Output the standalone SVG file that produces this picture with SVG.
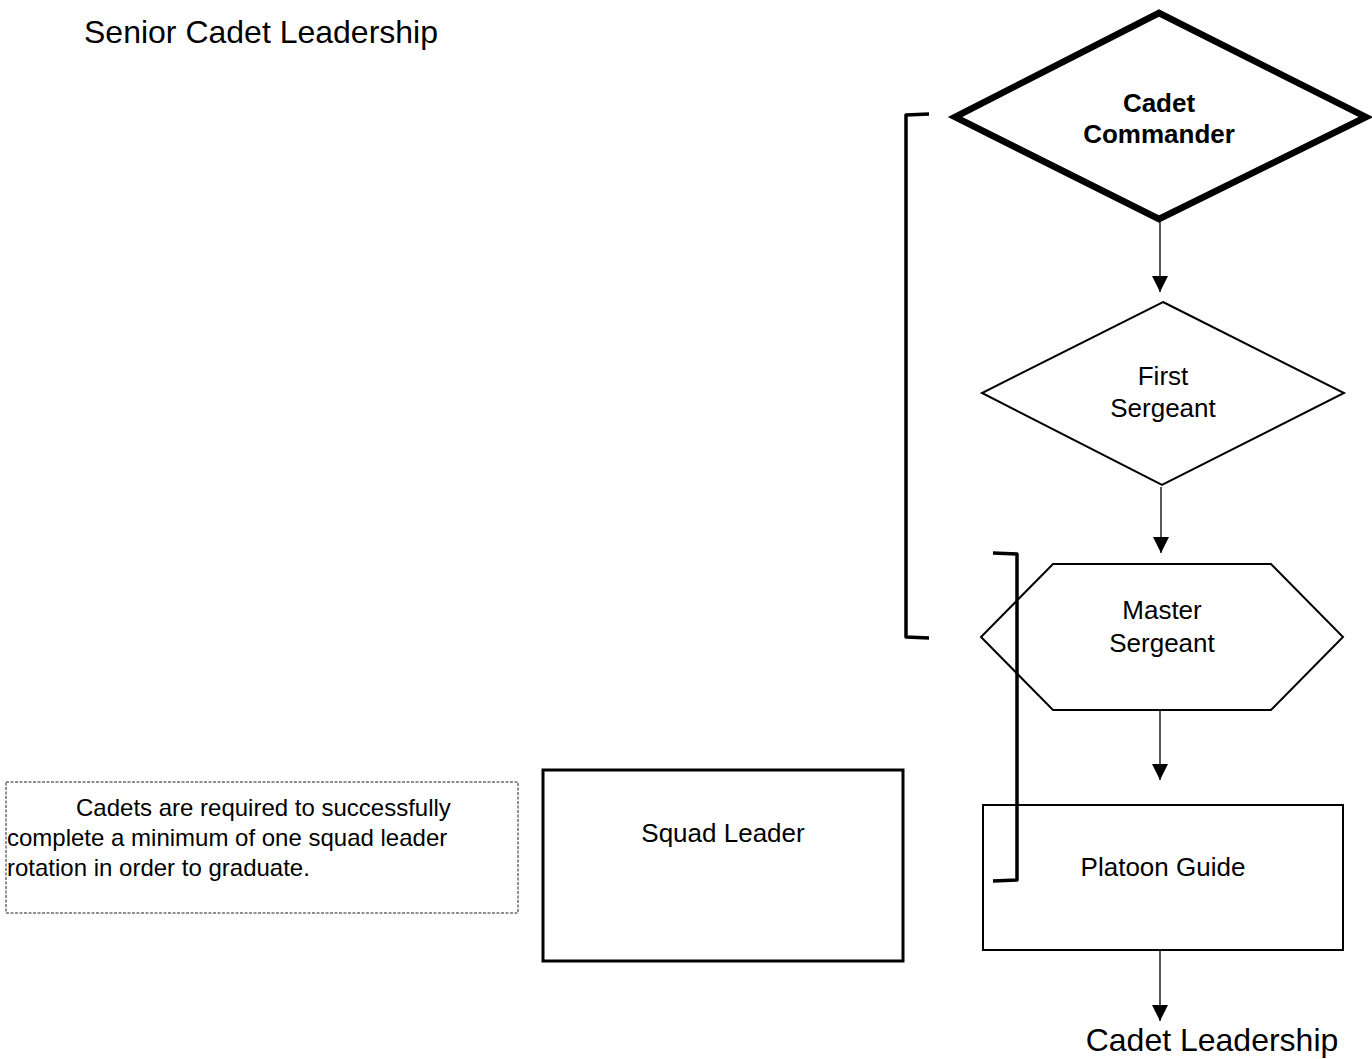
<svg xmlns="http://www.w3.org/2000/svg" width="1372" height="1059" viewBox="0 0 1372 1059">
<style>
text{font-family:"Liberation Sans",Arial,sans-serif;fill:#000}
.n{font-size:26px}
.b{font-size:26px;font-weight:bold}
.big{font-size:32px}
.note{font-size:24px}
.shape{fill:#fff;stroke:#000}
.conn{stroke:#111;stroke-width:1.4;fill:none}
.br{stroke:#000;stroke-width:3.5;fill:none;stroke-linejoin:round}
</style>
<defs>
<marker id="ah" markerUnits="userSpaceOnUse" markerWidth="16" markerHeight="17" refX="16" refY="8" orient="auto">
<path d="M0,0 L16,8 L0,16 Z" fill="#000"/>
</marker>
</defs>
<rect width="1372" height="1059" fill="#fff"/>
<text id="title" class="big" x="84" y="43">Senior Cadet Leadership</text>
<g id="connectors">
<line class="conn" x1="1160" y1="222" x2="1160" y2="292" marker-end="url(#ah)"/>
<line class="conn" x1="1161" y1="487" x2="1161" y2="553" marker-end="url(#ah)"/>
<line class="conn" x1="1160" y1="711" x2="1160" y2="780" marker-end="url(#ah)"/>
<line class="conn" x1="1160" y1="950" x2="1160" y2="1021" marker-end="url(#ah)"/>
</g>
<g id="cadet-commander">
<polygon class="shape" stroke-width="6.5" points="1159,13 1366,117 1159,219 955,117"/>
<text class="b" x="1159" y="112" text-anchor="middle">Cadet</text>
<text class="b" x="1159" y="143" text-anchor="middle">Commander</text>
</g>
<g id="first-sergeant">
<polygon class="shape" stroke-width="2" points="1163,302 1344,393 1162,485 982,393"/>
<text class="n" x="1163" y="385" text-anchor="middle">First</text>
<text class="n" x="1163" y="417" text-anchor="middle">Sergeant</text>
</g>
<g id="master-sergeant">
<polygon class="shape" stroke-width="2" points="1053,564 1271,564 1343,637 1271,710 1053,710 981,637"/>
<text class="n" x="1162" y="619" text-anchor="middle">Master</text>
<text class="n" x="1162" y="652" text-anchor="middle">Sergeant</text>
</g>
<g id="platoon-guide">
<rect class="shape" stroke-width="2" x="983" y="805" width="360" height="145"/>
<text class="n" x="1163" y="876" text-anchor="middle">Platoon Guide</text>
</g>
<g id="squad-leader">
<rect class="shape" stroke-width="3" x="543" y="770" width="360" height="191"/>
<text class="n" x="723" y="842" text-anchor="middle">Squad Leader</text>
</g>
<g id="note">
<rect x="6" y="782" width="512" height="131" fill="#fff" stroke="#222" stroke-width="1" stroke-dasharray="3,1.5"/>
<text class="note" x="76" y="816">Cadets are required to successfully</text>
<text class="note" x="7" y="846">complete a minimum of one squad leader</text>
<text class="note" x="7" y="876">rotation in order to graduate.</text>
</g>
<g id="brackets">
<path class="br" d="M929,114 L906,115 L906,637 L929,638"/>
<path class="br" d="M993,553 L1017,554 L1017,880 L993,881"/>
</g>
<text id="footer" class="big" x="1212" y="1051" text-anchor="middle">Cadet Leadership</text>
</svg>
